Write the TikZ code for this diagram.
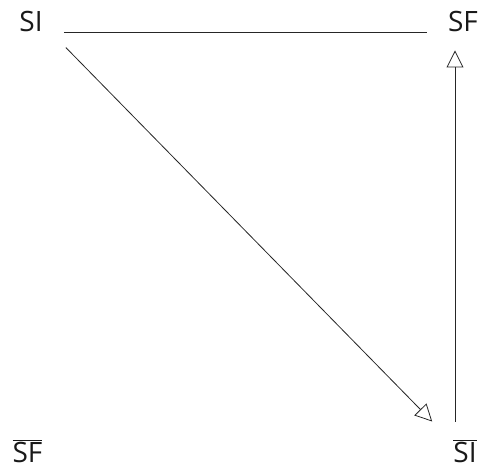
\documentclass[tikz,border=0pt]{standalone}
\usepackage{fontspec}
\setmainfont{Open Sans}
\usetikzlibrary{arrows.meta}
\begin{document}
\begin{tikzpicture}[x=1pt, y=-1pt,
  lbl/.style={anchor=base, inner sep=3pt, font=\fontsize{28}{32}\selectfont, text=black!90},
  link/.style={line width=0.8pt, black!85},
  opentip/.style={-{Triangle[open, length=17pt, width=17pt, line width=0.8pt]}}]
  \useasboundingbox (0,0) rectangle (486,468);
  \node (si)    [lbl] at (31,32)   {SI};
  \node (sf)    [lbl] at (463,32)  {SF};
  \node (sfbar) [lbl] at (27.5,462) {$\overline{\mbox{SF}}$};
  \node (sibar) [lbl] at (465,462) {$\overline{\mbox{SI}}$};
  \draw[link, shorten <=18pt, shorten >=18pt] (si.base east) -- (sf.base west);
  \draw[link, opentip] ([shift={(20pt,-12pt)}]si.south east)
        -- ([shift={(-18pt,15pt)}]sibar.north west);
  \draw[link, opentip, shorten <=15pt, shorten >=15pt] ([xshift=-10pt]sibar.north)
        -- ([xshift=-10pt]sibar.north |- sf.south);
\end{tikzpicture}
\end{document}
